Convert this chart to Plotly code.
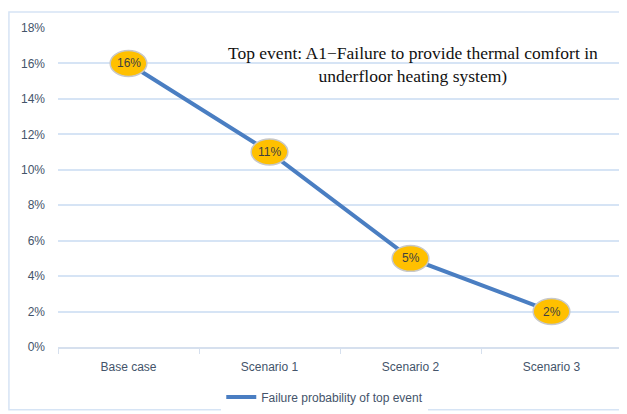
import plotly.graph_objects as go

categories = ["Base case", "Scenario 1", "Scenario 2", "Scenario 3"]
values = [0.16, 0.11, 0.05, 0.02]
labels = ["16%", "11%", "5%", "2%"]
series_name = "Failure probability of top event"
title_lines = ["Top event: A1\u2212Failure to provide thermal comfort in", "underfloor heating system)"]
y_ticks = [0, 0.02, 0.04, 0.06, 0.08, 0.10, 0.12, 0.14, 0.16, 0.18]

fig = go.Figure()
fig.add_trace(go.Scatter(
    x=categories, y=values, mode="lines", name=series_name,
    line=dict(color="#4A7EC2", width=4), showlegend=True,
))

# ellipse data labels
shapes = []
annotations = []
for i, v in enumerate(values):
    shapes.append(dict(type="circle", xref="x", yref="y",
                       x0=i - 0.13, x1=i + 0.13, y0=v - 0.0073, y1=v + 0.0073,
                       fillcolor="#FFC000", line=dict(color="#C8C8C8", width=1.5), layer="above"))
    annotations.append(dict(x=categories[i], y=v, xref="x", yref="y", text=labels[i], showarrow=False,
                            xanchor="center", yanchor="middle",
                            font=dict(family="Liberation Sans, Arial", size=12, color="#404040")))

# outer border
shapes.append(dict(type="rect", xref="paper", yref="paper", x0=-0.087, x1=1.03, y0=-0.197, y1=1.05,
                   line=dict(color="#D6E4F5", width=1.5), fillcolor="rgba(0,0,0,0)", layer="below"))

annotations.append(dict(text="<br>".join(title_lines), xref="paper", yref="paper",
                        x=0.63, y=0.887, xanchor="center", yanchor="middle", showarrow=False, align="center",
                        font=dict(family="Liberation Serif, Times New Roman", size=17.5, color="#111111")))

fig.update_layout(
    width=627, height=414,
    margin=dict(l=50, r=13, t=20, b=75, autoexpand=False),
    paper_bgcolor="white", plot_bgcolor="white",
    shapes=shapes,
    annotations=annotations,
    showlegend=True,
    legend=dict(orientation="h", x=0.473, xanchor="center", y=-0.157, yanchor="middle",
                font=dict(family="Liberation Sans, Arial", size=12, color="#44546A")),
    xaxis=dict(type="category", showgrid=False, showline=True, linecolor="#D6E0EE", linewidth=1.5,
               ticks="outside", tickcolor="#D6E0EE", ticklen=5, tickson="boundaries",
               ticklabelstandoff=8,
               tickfont=dict(family="Liberation Sans, Arial", size=12, color="#44546A"),
               range=[-0.5, 3.5], automargin=False),
    yaxis=dict(range=[0, 0.18], tickvals=y_ticks, tickformat=".0%", showgrid=True,
               gridcolor="#D6E4F5", gridwidth=1.5, zeroline=False, showline=False,
               ticklabelstandoff=12,
               tickfont=dict(family="Liberation Sans, Arial", size=12, color="#44546A"),
               automargin=False),
)

fig.write_html("out.html")
